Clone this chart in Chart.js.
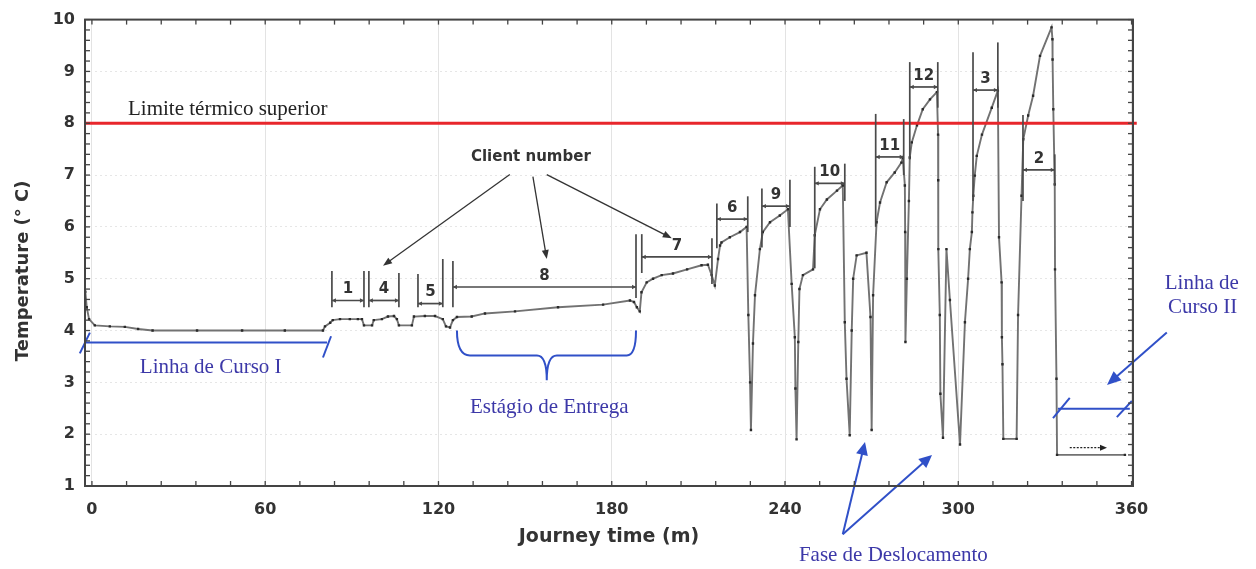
<!DOCTYPE html>
<html><head><meta charset="utf-8">
<script src="https://cdn.jsdelivr.net/npm/chart.js@4/dist/chart.umd.min.js"></script>
<style>html,body{margin:0;padding:0;background:#fff}canvas{display:block}</style>
</head><body>
<canvas id="c" width="1256" height="569"></canvas>
<script>
// ---- data (minutes, °C) ----
const journeyTime = [-2.3,-1.8,-1.0,1.0,6.2,11.4,16,21,36.4,52,66.8,80.0,80.7,82.5,83.4,
85.9,89.3,92.1,93.5,94.2,97.0,97.6,100.4,102.5,104.6,105.6,106.3,110.8,111.5,115.3,118.8,121.5,122.6,124.0,125.0,126.4,
131.5,136.1,146.5,161.4,177.0,186.3,187.7,188.7,189.7,
190.3,192.1,194.3,197.3,201.2,206.1,211.1,213.3,214.6,215.7,
216.8,217.5,218.0,220.9,224.4,226.7,
227.3,227.9,228.2,
228.9,229.6,231.3,232.3,234.8,238.2,241.0,
242.3,243.4,243.6,244.0,
244.6,245.0,246.2,249.7,250.3,252.1,254.5,258.0,260.0,
260.7,261.3,262.4,
263.1,263.6,264.8,268.2,
269.6,270.0,
270.5,271.7,272.9,275.2,278.0,280.3,280.8,
281.5,281.6,281.7,
282.2,282.9,283.2,283.9,285.7,287.7,290.2,292.6,
293.0,293.05,293.1,293.6,293.8,294.7,
295.9,297.1,300.6,
302.3,303.4,304.0,304.7,304.9,305.2,305.7,306.4,308.2,311.6,313.7,
314.1,315.0,315.1,315.3,315.6,
320.2,
320.7,321.9,322.5,324.2,325.9,328.3,332.3,
332.6,332.65,332.9,333.4,333.5,334.0,334.2,
357.7];
const temperature = [4.75,4.45,4.22,4.1,4.08,4.07,4.03,4.0,4.0,4.0,4.0,4.0,4.08,4.15,4.2,
4.22,4.22,4.22,4.22,4.1,4.1,4.2,4.22,4.27,4.28,4.22,4.1,4.1,4.27,4.28,4.28,4.22,4.08,4.06,4.2,4.26,
4.27,4.33,4.37,4.45,4.5,4.58,4.55,4.45,4.37,
4.74,4.93,5.0,5.07,5.1,5.18,5.26,5.27,5.07,4.87,
5.38,5.64,5.7,5.8,5.9,6.0,
4.3,3.0,2.08,
3.75,4.68,5.57,5.9,6.09,6.22,6.34,
4.9,3.87,2.88,1.9,
3.78,4.8,5.07,5.18,5.84,6.34,6.53,6.7,6.8,
4.16,3.07,1.98,
4.0,5.0,5.45,5.5,
4.26,2.08,
4.68,6.09,6.47,6.86,7.05,7.24,7.33,
6.8,5.9,3.78,
5.0,6.5,7.34,7.63,7.96,8.27,8.46,8.6,
7.78,6.9,5.57,4.3,2.78,1.93,
5.57,4.59,1.8,
4.16,5.0,5.57,5.9,6.28,6.6,6.99,7.37,7.78,8.3,8.63,
5.8,4.93,3.87,3.35,1.91,
1.91,
4.3,6.6,7.69,8.15,8.53,9.3,9.85,
9.62,9.23,8.27,6.82,5.18,3.07,1.6,
1.6];
const xTickValues = [0,60,120,180,240,300,360];
const yTickValues = [1,2,3,4,5,6,7,8,9,10];
const thermalLimit = 8;

// client stops (brackets)
const clientLabels = ['1','4','5','8','7','6','9','10','11','12','3','2'];
const clientStart  = [83.1,95.9,112.9,125.0,190.4,216.4,232.0,250.3,271.4,283.2,305.1,322.4];
const clientEnd    = [94.2,106.3,121.5,188.4,214.7,227.1,241.7,260.7,281.1,292.9,313.7,333.4];
const clientLevel  = [4.58,4.58,4.52,4.84,5.42,6.15,6.4,6.84,7.35,8.7,8.64,7.1];
const clientTopStart = [5.15,5.15,5.09,5.34,5.86,6.45,6.74,7.16,8.18,9.18,9.37,8.16];
const clientTopEnd   = [5.15,5.11,5.38,5.86,5.78,6.59,6.91,7.22,8.08,9.18,9.56,7.4];
const clientBotStart = [4.45,4.45,4.45,4.45,5.11,5.59,5.6,5.2,6.0,7.3,6.5,6.5];
const clientBotEnd   = [4.45,4.45,4.45,4.63,4.9,5.9,6.0,6.5,7.0,8.3,8.3,6.8];

const points = journeyTime.map((t,i)=>({x:t,y:temperature[i]}));

function arrowHead(ctx,x1,y1,x2,y2,len,wid){
  const a=Math.atan2(y2-y1,x2-x1);
  ctx.beginPath();
  ctx.moveTo(x2,y2);
  ctx.lineTo(x2-len*Math.cos(a)+wid*Math.sin(a), y2-len*Math.sin(a)-wid*Math.cos(a));
  ctx.lineTo(x2-len*Math.cos(a)-wid*Math.sin(a), y2-len*Math.sin(a)+wid*Math.cos(a));
  ctx.closePath(); ctx.fill();
}
function arrow(ctx,x1,y1,x2,y2,len,wid,color,lw,dash){
  const a=Math.atan2(y2-y1,x2-x1);
  ctx.strokeStyle=color; ctx.fillStyle=color; ctx.lineWidth=lw;
  ctx.setLineDash(dash||[]);
  ctx.beginPath(); ctx.moveTo(x1,y1); ctx.lineTo(x2-len*0.7*Math.cos(a), y2-len*0.7*Math.sin(a)); ctx.stroke();
  ctx.setLineDash([]);
  arrowHead(ctx,x1,y1,x2,y2,len,wid);
}
function seg(ctx,x1,y1,x2,y2){ctx.beginPath();ctx.moveTo(x1,y1);ctx.lineTo(x2,y2);ctx.stroke();}

const overlay = {
  id:'overlay',
  afterDatasetsDraw(chart){
    const ctx=chart.ctx, a=chart.chartArea, xs=chart.scales.x, ys=chart.scales.y;
    const X=v=>xs.getPixelForValue(v), Y=v=>ys.getPixelForValue(v);
    ctx.save();
    // thermal limit
    ctx.strokeStyle='#e8262b'; ctx.lineWidth=3;
    seg(ctx,a.left,Y(thermalLimit),X(361.8),Y(thermalLimit));
    ctx.font='21px "Liberation Serif", serif'; ctx.fillStyle='#222'; ctx.textAlign='left'; ctx.textBaseline='alphabetic';
    ctx.fillText('Limite térmico superior', X(12.5), Y(8.16));

    // client brackets
    ctx.strokeStyle='#4a4a4a'; ctx.fillStyle='#4a4a4a'; ctx.lineWidth=1.7;
    for(let i=0;i<clientLabels.length;i++){
      const x1=X(clientStart[i]), x2=X(clientEnd[i]), yl=Y(clientLevel[i]);
      seg(ctx,x1,Y(clientTopStart[i]),x1,Y(clientBotStart[i]));
      seg(ctx,x2,Y(clientTopEnd[i]),x2,Y(clientBotEnd[i]));
      seg(ctx,x1,yl,x2,yl);
      arrowHead(ctx,x2,yl,x1,yl,4,2.2);
      arrowHead(ctx,x1,yl,x2,yl,4,2.2);
      ctx.save(); ctx.fillStyle='#333'; ctx.font='bold 15px "DejaVu Sans", sans-serif';
      ctx.textAlign='center'; ctx.textBaseline='middle';
      ctx.fillText(clientLabels[i],(x1+x2)/2,yl-11); ctx.restore();
    }
    // client number text + arrows
    ctx.font='bold 15px "DejaVu Sans", sans-serif'; ctx.fillStyle='#333'; ctx.textAlign='center'; ctx.textBaseline='middle';
    ctx.fillText('Client number', X(152.0), Y(7.34));
    arrow(ctx,X(144.7),Y(7.01),X(100.8),Y(5.25),9,3.5,'#333',1.3);
    arrow(ctx,X(152.7),Y(6.97),X(157.5),Y(5.38),9,3.5,'#333',1.3);
    arrow(ctx,X(157.5),Y(7.01),X(200.8),Y(5.78),9,3.5,'#333',1.3);

    // blue annotations
    const blue='#3050c8', blueText='#3c38a8';
    ctx.strokeStyle=blue; ctx.lineWidth=2;
    seg(ctx,X(-2.4),Y(3.77),X(81.4),Y(3.77));
    seg(ctx,X(-4.2),Y(3.56),X(-0.7),Y(3.96));
    seg(ctx,X(80.0),Y(3.48),X(82.8),Y(3.89));
    ctx.font='21px "Liberation Serif", serif'; ctx.fillStyle=blueText; ctx.textAlign='left'; ctx.textBaseline='alphabetic';
    ctx.fillText('Linha de Curso I', X(16.6), Y(3.18));
    // curly brace
    ctx.beginPath();
    ctx.moveTo(X(126.4),Y(4.0));
    ctx.quadraticCurveTo(X(126.4),Y(3.52),X(130.9),Y(3.52));
    ctx.lineTo(X(154.1),Y(3.52));
    ctx.quadraticCurveTo(X(157.5),Y(3.52),X(157.5),Y(3.04));
    ctx.quadraticCurveTo(X(157.5),Y(3.52),X(161.0),Y(3.52));
    ctx.lineTo(X(185.2),Y(3.52));
    ctx.quadraticCurveTo(X(188.4),Y(3.52),X(188.4),Y(4.0));
    ctx.stroke();
    ctx.fillText('Estágio de Entrega', X(130.9), Y(2.41));
    // fase de deslocamento
    ctx.fillText('Fase de Deslocamento', X(244.8), Y(-0.45));
    arrow(ctx,X(260.0),Y(0.07),X(267.7),Y(1.85),13,6,blue,2);
    arrow(ctx,X(260.0),Y(0.07),X(290.9),Y(1.6),13,6,blue,2);
    // linha de curso II
    ctx.fillStyle=blueText;
    ctx.fillText('Linha de', X(371.5), Y(4.81));
    ctx.fillText('Curso II', X(372.6), Y(4.33));
    arrow(ctx,X(372.2),Y(3.96),X(351.5),Y(2.95),14,6,blue,2);
    ctx.strokeStyle=blue; ctx.lineWidth=2;
    seg(ctx,X(334.5),Y(2.49),X(359.4),Y(2.49));
    seg(ctx,X(332.8),Y(2.31),X(338.6),Y(2.7));
    seg(ctx,X(354.9),Y(2.33),X(360.1),Y(2.64));
    // small black arrow
    arrow(ctx,X(338.6),Y(1.74),X(351.5),Y(1.74),7,3,'#222',1.3,[2,1.5]);

    // frame + minor ticks
    ctx.strokeStyle='#444'; ctx.lineWidth=2;
    ctx.strokeRect(a.left,a.top,a.right-a.left,a.bottom-a.top);
    ctx.lineWidth=1.3;
    for(let i=0;i<=30;i++){
      const xp=X(i*12);
      seg(ctx,xp,a.bottom,xp,a.bottom-5);
      seg(ctx,xp,a.top,xp,a.top+5);
    }
    for(let i=0;i<=45;i++){
      const yp=Y(1+i*0.2);
      seg(ctx,a.left,yp,a.left+5,yp);
      seg(ctx,a.right,yp,a.right-5,yp);
    }
    // y-axis title
    ctx.save();
    ctx.translate(23,(a.top+a.bottom)/2+18);
    ctx.rotate(-Math.PI/2);
    ctx.font='bold 18px "DejaVu Sans", sans-serif'; ctx.fillStyle='#333'; ctx.textAlign='center'; ctx.textBaseline='middle';
    ctx.fillText('Temperature (° C)',0,0);
    ctx.restore();
    ctx.restore();
  }
};

new Chart(document.getElementById('c'),{
  type:'line',
  data:{datasets:[{
    data:points,
    borderColor:'#727272', borderWidth:1.9, tension:0,
    pointStyle:'rect', pointRadius:1.7, pointBackgroundColor:'#2a2a2a', pointBorderWidth:0,
    pointHoverRadius:1.7
  }]},
  options:{
    responsive:false, animation:false, devicePixelRatio:1,
    layout:{padding:{left:0,right:123,top:17,bottom:21}},
    plugins:{legend:{display:false},tooltip:{enabled:false}},
    scales:{
      x:{type:'linear',min:-2.4,max:360.5,
        afterBuildTicks:s=>{s.ticks=xTickValues.map(v=>({value:v}));},
        afterFit:s=>{s.height=62;},
        grid:{color:'#e3e3e3',lineWidth:1,drawTicks:false},
        border:{display:false},
        ticks:{padding:14,autoSkip:false,maxRotation:0,color:'#333',font:{family:'"DejaVu Sans", sans-serif',size:16,weight:'bold'}},
        title:{display:true,text:'Journey time (m)',color:'#333',padding:0,font:{family:'"DejaVu Sans", sans-serif',size:19,weight:'bold'}}
      },
      y:{type:'linear',min:1,max:10,
        afterBuildTicks:s=>{s.ticks=yTickValues.map(v=>({value:v}));},
        afterFit:s=>{s.width=85;},
        grid:{color:'#e6e6e6',lineWidth:1,drawTicks:false},
        border:{display:false,dash:[2,3]},
        ticks:{padding:10,color:'#333',font:{family:'"DejaVu Sans", sans-serif',size:16,weight:'bold'}}
      }
    }
  },
  plugins:[overlay]
});
</script>
</body></html>
